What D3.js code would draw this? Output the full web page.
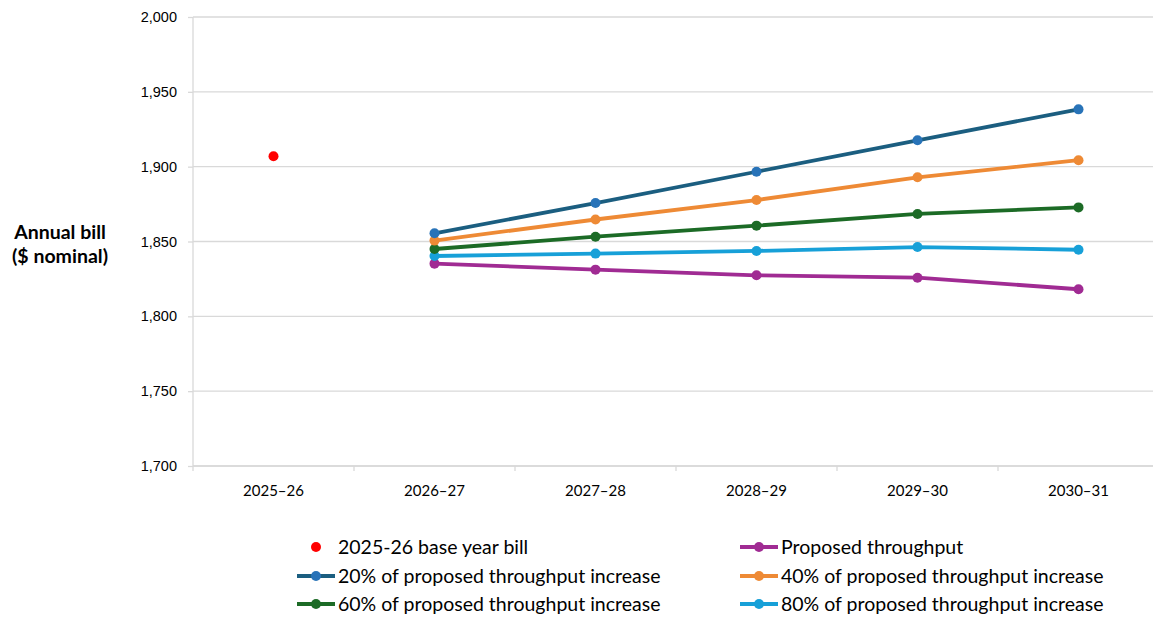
<!DOCTYPE html>
<html>
<head>
<meta charset="utf-8">
<script src="https://cdn.jsdelivr.net/npm/d3@7"></script>
<style>
  body { margin: 0; background: #fff; }
  svg { display: block; font-family: Lato, "Liberation Sans", sans-serif; }
</style>
</head>
<body>
<svg id="chart" width="1153" height="617"></svg>
<script>
// Financial years on the category axis
const years = ["2025–26", "2026–27", "2027–28", "2028–29", "2029–30", "2030–31"];
const scenarioYears = years.slice(1);

// Base year bill
const baseYear = "2025–26";
const baseBill = 1907;

// Annual bill by throughput scenario ($ nominal)
const proposed = [1835.2, 1831.2, 1827.4, 1825.8, 1818.1];
const pct20 = [1855.5, 1875.7, 1896.6, 1917.6, 1938.3];
const pct40 = [1850.6, 1864.7, 1877.7, 1892.9, 1904.3];
const pct60 = [1845.0, 1853.2, 1860.6, 1868.4, 1872.8];
const pct80 = [1840.3, 1841.9, 1843.7, 1846.3, 1844.5];

const yTicks = [1700, 1750, 1800, 1850, 1900, 1950, 2000];

const series = [
  { name: "Proposed throughput", values: proposed, color: "#a02b93" },
  { name: "20% of proposed throughput increase", values: pct20, color: "#1b5e80", marker: "#2873b8" },
  { name: "40% of proposed throughput increase", values: pct40, color: "#ee8a35" },
  { name: "60% of proposed throughput increase", values: pct60, color: "#1c6b26" },
  { name: "80% of proposed throughput increase", values: pct80, color: "#17a0d8" }
];

const svg = d3.select("#chart");
const margin = { left: 193, right: 1159, top: 17, bottom: 466 };

const x = d3.scaleBand().domain(years).range([margin.left, margin.right]);
const y = d3.scaleLinear().domain([1700, 2000]).range([margin.bottom, margin.top]);
const cx = d => x(d) + x.bandwidth() / 2;

// Horizontal gridlines
svg.append("g")
  .selectAll("line")
  .data(yTicks)
  .join("line")
  .attr("x1", margin.left).attr("x2", margin.right)
  .attr("y1", d => y(d)).attr("y2", d => y(d))
  .attr("stroke", "#d9d9d9").attr("stroke-width", 1.3);

// Y axis
const yAxis = svg.append("g")
  .attr("transform", `translate(${margin.left},0)`)
  .call(d3.axisLeft(y).tickValues(yTicks).tickFormat(d3.format(",")).tickSize(5).tickPadding(11));
yAxis.select(".domain").attr("stroke", "#d9d9d9").attr("stroke-width", 1.3).attr("d", `M0,${margin.top}V${margin.bottom}`);
yAxis.selectAll(".tick line").attr("stroke", "#d9d9d9").attr("stroke-width", 1.3);
yAxis.selectAll(".tick text").attr("font-size", 14.5).attr("fill", "#000");

// X axis with tick marks on band boundaries
const xAxis = svg.append("g").attr("transform", `translate(0,${margin.bottom})`);
xAxis.append("line").attr("x1", margin.left).attr("x2", margin.right)
  .attr("stroke", "#d9d9d9").attr("stroke-width", 1.3);
xAxis.selectAll("line.tk")
  .data(years.concat(["end"]))
  .join("line").attr("class", "tk")
  .attr("x1", (d, i) => margin.left + i * x.bandwidth())
  .attr("x2", (d, i) => margin.left + i * x.bandwidth())
  .attr("y1", 0).attr("y2", 5)
  .attr("stroke", "#d9d9d9").attr("stroke-width", 1.3);
xAxis.selectAll("text")
  .data(years)
  .join("text")
  .attr("x", d => cx(d)).attr("y", 30)
  .attr("text-anchor", "middle").attr("font-size", 15).attr("fill", "#000")
  .text(d => d);

// Y axis title
svg.append("text")
  .attr("x", 60).attr("y", 239).attr("text-anchor", "middle")
  .attr("font-size", 19.5).attr("font-weight", "bold")
  .selectAll("tspan")
  .data(["Annual bill", "($ nominal)"])
  .join("tspan")
  .attr("x", 60).attr("dy", (d, i) => i === 0 ? 0 : 24)
  .text(d => d);

// Scenario lines
const line = d3.line().x((d, i) => cx(scenarioYears[i])).y(d => y(d));
const order = [series[0], series[4], series[3], series[2], series[1]];
order.forEach(s => {
  svg.append("path").datum(s.values)
    .attr("d", line).attr("fill", "none")
    .attr("stroke", s.color).attr("stroke-width", 3.8)
    .attr("stroke-linejoin", "round").attr("stroke-linecap", "round");
  svg.append("g").selectAll("circle")
    .data(s.values)
    .join("circle")
    .attr("cx", (d, i) => cx(scenarioYears[i])).attr("cy", d => y(d))
    .attr("r", 5).attr("fill", s.marker || s.color);
});

// Base year point
svg.append("circle")
  .attr("cx", cx(baseYear)).attr("cy", y(baseBill))
  .attr("r", 5).attr("fill", "#ff0000");

// Legend
const legendItems = [
  { name: "2025-26 base year bill", color: "#ff0000", point: true, col: 0, row: 0 },
  { name: series[0].name, color: series[0].color, col: 1, row: 0 },
  { name: series[1].name, color: series[1].color, marker: series[1].marker, col: 0, row: 1 },
  { name: series[2].name, color: series[2].color, col: 1, row: 1 },
  { name: series[3].name, color: series[3].color, col: 0, row: 2 },
  { name: series[4].name, color: series[4].color, col: 1, row: 2 }
];
const colX = [297, 740];
const rowY = [547, 576, 604];
const lg = svg.append("g").selectAll("g")
  .data(legendItems)
  .join("g")
  .attr("transform", d => `translate(${colX[d.col]},${rowY[d.row]})`);
lg.filter(d => !d.point).append("line")
  .attr("x1", 0).attr("x2", 38).attr("stroke", d => d.color).attr("stroke-width", 3.8);
lg.append("circle").attr("cx", 19).attr("r", 5).attr("fill", d => d.marker || d.color);
lg.append("text")
  .attr("x", 41).attr("dy", "0.35em").attr("font-size", 19.5).attr("fill", "#000")
  .text(d => d.name);
</script>
</body>
</html>
